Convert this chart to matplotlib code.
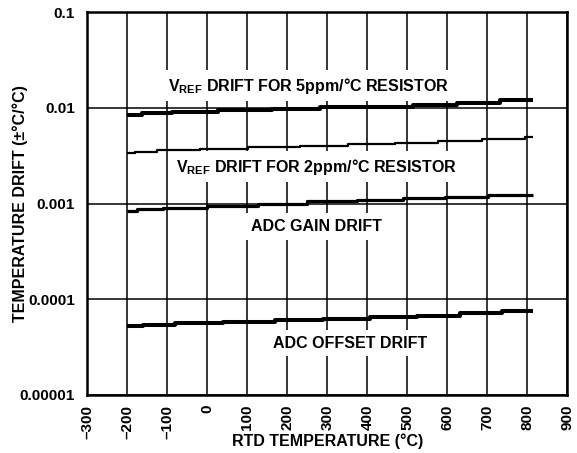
import matplotlib
matplotlib.use("Agg")
import matplotlib.pyplot as plt
from matplotlib.ticker import FixedLocator, FixedFormatter, NullLocator

plt.rcParams['font.family'] = ['Liberation Sans', 'DejaVu Sans']
plt.rcParams['font.weight'] = 'bold'

# Data (staircase curves): step start positions + end, and levels
x_5ppm = [-200, -163, -88, 27, 162, 282, 514, 624, 732, 815]
y_5ppm = [0.00845, 0.00876, 0.00908, 0.00942, 0.00976, 0.0101, 0.0107, 0.0113, 0.0121]

x_2ppm = [-200, -181, -126, -18, 102, 232, 352, 469, 577, 687, 794, 815]
y_2ppm = [0.00339, 0.00347, 0.00360, 0.00373, 0.00387, 0.00401, 0.00416, 0.00431, 0.00447, 0.00470, 0.00498]

x_gain = [-200, -176, -111, -1, 127, 249, 374, 489, 594, 702, 815]
y_gain = [0.000845, 0.000876, 0.000908, 0.000953, 0.00100, 0.00105, 0.00109, 0.00113, 0.00118, 0.00124]

x_off = [-200, -161, -81, 39, 169, 289, 407, 524, 632, 737, 815]
y_off = [5.22e-5, 5.41e-5, 5.61e-5, 5.82e-5, 6.03e-5, 6.26e-5, 6.49e-5, 6.75e-5, 7.1e-5, 7.58e-5]

x_ticks = [-300, -200, -100, 0, 100, 200, 300, 400, 500, 600, 700, 800, 900]
x_tick_labels = ['\u2013300', '\u2013200', '\u2013100', '0', '100', '200', '300', '400', '500', '600', '700', '800', '900']
y_ticks = [1e-5, 1e-4, 1e-3, 1e-2, 1e-1]
y_tick_labels = ['0.00001', '0.0001', '0.001', '0.01', '0.1']

labels = [r'V$_{\mathregular{REF}}$ DRIFT FOR 5ppm/°C RESISTOR',
          r'V$_{\mathregular{REF}}$ DRIFT FOR 2ppm/°C RESISTOR',
          'ADC GAIN DRIFT',
          'ADC OFFSET DRIFT']
label_x = [252, 272, 272, 357]
label_y = [0.0170, 0.00242, 0.000575, 3.47e-5]

fig = plt.figure(figsize=(5.77, 4.53), dpi=100)
ax = fig.add_axes([87.3 / 577, 58 / 453, 480 / 577, 383 / 453])

ax.set_xscale('linear')
ax.set_yscale('log')
ax.set_xlim(-300, 900)
ax.set_ylim(1e-5, 0.1)

ax.xaxis.set_major_locator(FixedLocator(x_ticks))
ax.xaxis.set_major_formatter(FixedFormatter(x_tick_labels))
ax.yaxis.set_major_locator(FixedLocator(y_ticks))
ax.yaxis.set_major_formatter(FixedFormatter(y_tick_labels))
ax.yaxis.set_minor_locator(NullLocator())

ax.set_axisbelow(True)
ax.grid(True, which='major', color='black', linewidth=1.1)
ax.tick_params(axis='both', length=0, labelsize=11)
ax.tick_params(axis='y', pad=9)
ax.tick_params(axis='x', pad=7, labelrotation=90)

for sp in ax.spines.values():
    sp.set_linewidth(1.8)
    sp.set_color('black')

series = [(x_5ppm, y_5ppm, 2.9), (x_2ppm, y_2ppm, 1.6), (x_gain, y_gain, 2.3), (x_off, y_off, 2.9)]
for xs, ys, lw in series:
    ax.plot(xs, ys + [ys[-1]], drawstyle='steps-post', color='black', lw=lw,
            solid_capstyle='butt', zorder=4)

for t, lx, ly in zip(labels, label_x, label_y):
    ax.text(lx, ly, t, ha='center', va='center', fontsize=11.5, fontweight='bold',
            bbox=dict(facecolor='white', edgecolor='none', pad=4), zorder=3)

ax.set_xlabel('RTD TEMPERATURE (°C)', fontsize=11.5, fontweight='bold', va='center')
ax.set_ylabel('TEMPERATURE DRIFT (±°C/°C)', fontsize=11.5, fontweight='bold', va='center')
ax.xaxis.set_label_coords(0.5, -0.120)
ax.yaxis.set_label_coords(-0.140, 0.5)

fig.savefig('out.png', dpi=100)
